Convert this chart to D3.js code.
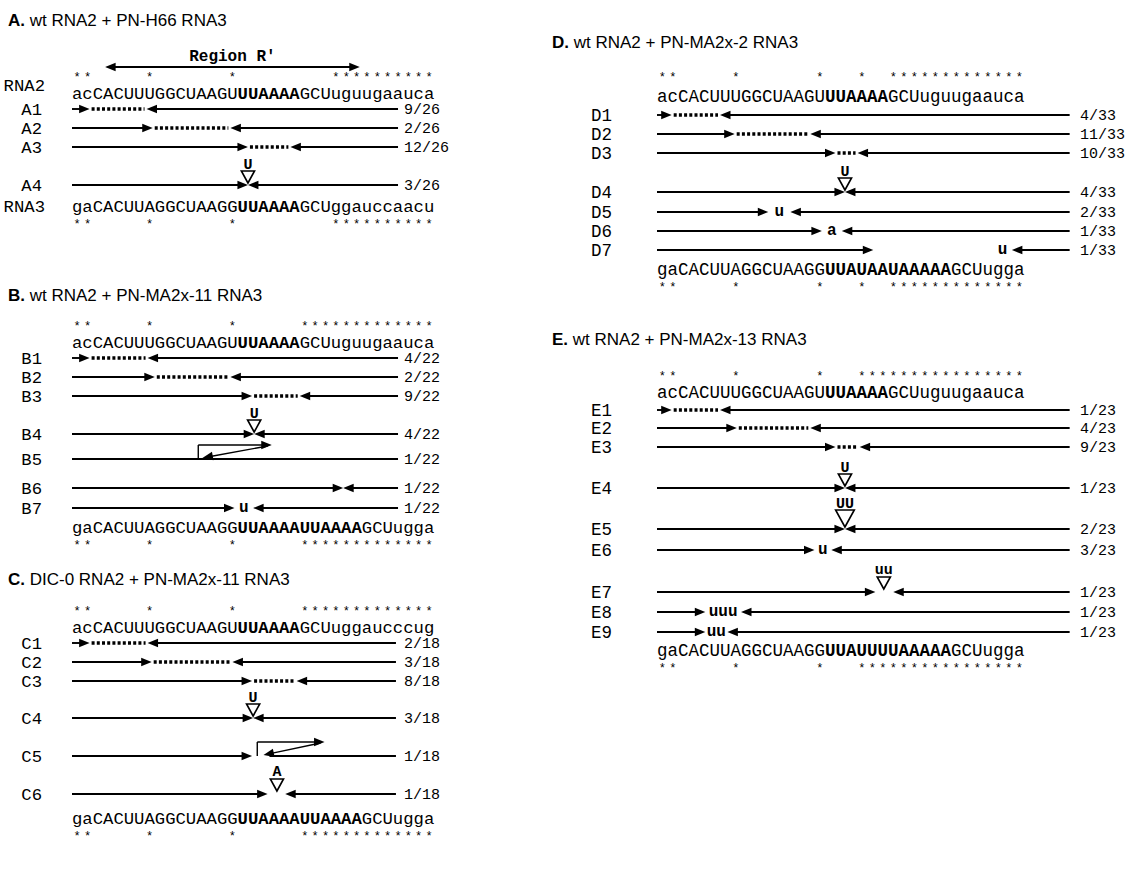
<!DOCTYPE html>
<html>
<head>
<meta charset="utf-8">
<script src="https://cdn.jsdelivr.net/npm/d3@7"></script>
<style>
  body { margin: 0; background: #fff; }
  svg { display: block; }
</style>
</head>
<body>
<div id="chart"></div>
<script>
// ---- sequences: [plain 5' part, bold part, plain 3' part]
var rna2Wt   = ["acCACUUUGGCUAAGU", "UUAAAA", "GCUuguugaauca"];
var rna2Dic0 = ["acCACUUUGGCUAAGU", "UUAAAA", "GCUuggaucccug"];
var rna3H66  = ["gaCACUUAGGCUAAGG", "UUAAAA", "GCUggauccaacu"];
var rna3x11  = ["gaCACUUAGGCUAAGG", "UUAAAAUUAAAA", "GCUugga"];
var rna3x2   = ["gaCACUUAGGCUAAGG", "UUAUAAUAAAAA", "GCUugga"];
var rna3x13  = ["gaCACUUAGGCUAAGG", "UUAUUUUAAAAA", "GCUugga"];

// ---- mismatch positions (nt index) marked with *
var starsA  = [0, 1, 7, 15, 25, 26, 27, 28, 29, 30, 31, 32, 33, 34];
var starsBC = [0, 1, 7, 15, 22, 23, 24, 25, 26, 27, 28, 29, 30, 31, 32, 33, 34];
var starsD  = [0, 1, 7, 15, 19, 22, 23, 24, 25, 26, 27, 28, 29, 30, 31, 32, 33, 34];
var starsE  = [0, 1, 7, 15, 19, 20, 21, 22, 23, 24, 25, 26, 27, 28, 29, 30, 31, 32, 33, 34];

// ---- panels
var panelIds    = ["A", "B", "C", "D", "E"];
var panelTitles = ["wt RNA2 + PN-H66 RNA3", "wt RNA2 + PN-MA2x-11 RNA3",
                   "DIC-0 RNA2 + PN-MA2x-11 RNA3", "wt RNA2 + PN-MA2x-2 RNA3",
                   "wt RNA2 + PN-MA2x-13 RNA3"];
var topSeqs    = [rna2Wt, rna2Wt, rna2Dic0, rna2Wt, rna2Wt];
var bottomSeqs = [rna3H66, rna3x11, rna3x11, rna3x2, rna3x13];
var starSets   = [starsA, starsBC, starsBC, starsD, starsE];
var totals     = [26, 22, 18, 33, 23];

// ---- recombinant junctions (positions in nt units along the alignment)
var rowsA = [
  {label: "A1", kind: "gap", from: 1.7, to: 7.2, n: 9},
  {label: "A2", kind: "gap", from: 7.8, to: 15.3, n: 2},
  {label: "A3", kind: "gap", from: 17.0, to: 21.1, n: 12},
  {label: "A4", kind: "ins", at: 17.0, nt: "U", n: 3}
];
var rowsB = [
  {label: "B1", kind: "gap", from: 1.7, to: 7.3, n: 4},
  {label: "B2", kind: "gap", from: 8.0, to: 15.3, n: 2},
  {label: "B3", kind: "gap", from: 17.4, to: 22.0, n: 9},
  {label: "B4", kind: "ins", at: 17.6, nt: "U", n: 4},
  {label: "B5", kind: "loop", from: null, up: 12.2, top: 19.3, back: 12.6, n: 1},
  {label: "B6", kind: "join", at: 26.2, n: 1},
  {label: "B7", kind: "nt", from: 15.7, to: 17.5, nt: "u", n: 1}
];
var rowsC = [
  {label: "C1", kind: "gap", from: 1.7, to: 7.3, n: 2},
  {label: "C2", kind: "gap", from: 7.7, to: 15.5, n: 3},
  {label: "C3", kind: "gap", from: 17.4, to: 21.7, n: 8},
  {label: "C4", kind: "ins", at: 17.5, nt: "U", n: 3},
  {label: "C5", kind: "loop", from: 17.4, up: 17.9, top: 24.4, back: 18.5, n: 1},
  {label: "C6", kind: "ins2", from: 18.9, to: 20.6, at: 19.8, nt: "A", n: 1}
];
var rowsD = [
  {label: "D1", kind: "gap", from: 1.4, to: 6.0, n: 4},
  {label: "D2", kind: "gap", from: 7.4, to: 14.6, n: 11},
  {label: "D3", kind: "gap", from: 17.0, to: 19.1, n: 10},
  {label: "D4", kind: "ins", at: 17.9, nt: "U", n: 4},
  {label: "D5", kind: "nt", from: 10.6, to: 12.7, nt: "u", n: 2},
  {label: "D6", kind: "nt", from: 15.7, to: 17.6, nt: "a", n: 1},
  {label: "D7", kind: "nt", from: 20.6, to: 33.8, ntAt: 32.9, nt: "u", n: 1}
];
var rowsE = [
  {label: "E1", kind: "gap", from: 1.4, to: 6.0, n: 1},
  {label: "E2", kind: "gap", from: 7.6, to: 14.6, n: 4},
  {label: "E3", kind: "gap", from: 17.0, to: 19.3, n: 9},
  {label: "E4", kind: "ins", at: 17.9, nt: "U", n: 1},
  {label: "E5", kind: "ins", at: 17.9, nt: "UU", n: 2},
  {label: "E6", kind: "nt", from: 15.0, to: 16.6, nt: "u", n: 3},
  {label: "E7", kind: "ins2", from: 20.8, to: 22.5, at: 21.6, nt: "uu", n: 1},
  {label: "E8", kind: "nt", from: 4.6, to: 8.0, nt: "uuu", n: 1},
  {label: "E9", kind: "nt", from: 4.6, to: 6.7, nt: "uu", n: 1}
];
var panelRows = [rowsA, rowsB, rowsC, rowsD, rowsE];

// region R' (panel A only)
var regionLabel = "Region R'";
var regionSpan = [3.2, 27.8];

// ---- layout (pixels, or nt units where noted)
var layout = {
  A: {x0: 72,  cw: 10.35, lineEnd: 31.5, fracX: 404,  titleX: 8,   labelX: 42,  titleY: 20,  starsY: 77,  seqY: 93,  rowY: [109, 128, 147, 185], seq3Y: 206, stars3Y: 221},
  B: {x0: 72,  cw: 10.35, lineEnd: 31.5, fracX: 404,  titleX: 8,   labelX: 42,  titleY: 295, starsY: 327, seqY: 342, rowY: [358, 377, 396, 434, 459, 488, 508], seq3Y: 527, stars3Y: 542},
  C: {x0: 72,  cw: 10.35, lineEnd: 31.3, fracX: 404,  titleX: 8,   labelX: 42,  titleY: 579, starsY: 611, seqY: 627, rowY: [643, 662, 681, 718, 756, 794], seq3Y: 818, stars3Y: 834},
  D: {x0: 657, cw: 10.5,  lineEnd: 39.3, fracX: 1080, titleX: 552, labelX: 612, titleY: 42,  starsY: 74,  seqY: 96,  rowY: [115, 134, 153, 192, 212, 231, 250], seq3Y: 269, stars3Y: 285},
  E: {x0: 657, cw: 10.5,  lineEnd: 39.3, fracX: 1080, titleX: 552, labelX: 612, titleY: 339, starsY: 374, seqY: 392, rowY: [410, 428, 447, 488, 529, 550, 592, 612, 632], seq3Y: 650, stars3Y: 666}
};

var W = 1141, H = 873;
var SEQ_LEN = 35;
var MONO = "'Courier New', 'Liberation Mono', monospace";
var SANS = "Arial, 'Liberation Sans', Helvetica, sans-serif";
var LW = 1.9;

var svg = d3.select("#chart").append("svg")
  .attr("width", W)
  .attr("height", H)
  .style("background", "#fff");

function arrowHead(g, x, y, ang) {
  var L = 10.5, w = 4.3;
  var ca = Math.cos(ang), sa = Math.sin(ang);
  var bx = x - L * ca, by = y - L * sa;
  g.append("path")
    .attr("d", "M" + x + "," + y +
      "L" + (bx - w * sa) + "," + (by + w * ca) +
      "L" + (bx + w * sa) + "," + (by - w * ca) + "Z")
    .attr("fill", "#000");
}

function hline(g, xa, xb, y, dotted) {
  var l = g.append("line")
    .attr("x1", xa).attr("x2", xb)
    .attr("y1", y).attr("y2", y)
    .attr("stroke", "#000");
  if (dotted) {
    l.attr("stroke-width", 3.6).attr("stroke-dasharray", "3 2.2");
  } else {
    l.attr("stroke-width", LW);
  }
  return l;
}

function triangle(g, cx, yTip, size) {
  var h = size, w = size * 0.55;
  g.append("path")
    .attr("d", "M" + cx + "," + yTip + "L" + (cx - w) + "," + (yTip - h) +
      "L" + (cx + w) + "," + (yTip - h) + "Z")
    .attr("fill", "#fff")
    .attr("stroke", "#000")
    .attr("stroke-width", 1.6);
}

function seqText(g, parts, x, y, fs) {
  var t = g.append("text")
    .attr("x", x(0))
    .attr("y", y + 6)
    .attr("font-family", MONO)
    .attr("font-size", fs)
    .attr("textLength", x(SEQ_LEN) - x(0))
    .attr("lengthAdjust", "spacing")
    .attr("fill", "#000");
  t.append("tspan").text(parts[0]);
  t.append("tspan").attr("font-weight", "bold").text(parts[1]);
  t.append("tspan").text(parts[2]);
}

// stars sit above (top row) or below (bottom row) the sequence, clear of its glyph box
function starRow(g, stars, x, baseline) {
  g.append("g").attr("class", "stars")
    .selectAll("text")
    .data(stars)
    .enter().append("text")
    .attr("x", function (d) { return x(d + 0.5); })
    .attr("y", baseline)
    .attr("text-anchor", "middle")
    .attr("font-family", MONO)
    .attr("font-size", 12)
    .text("*");
}

function drawRow(g, r, x, yy, lay, total) {
  var xs = x(0), xe = x(lay.lineEnd);

  if (r.kind === "gap") {
    hline(g, xs, x(r.from) - 6, yy);
    arrowHead(g, x(r.from), yy, 0);
    hline(g, x(r.from) + 2, x(r.to) - 2, yy, true);
    arrowHead(g, x(r.to), yy, Math.PI);
    hline(g, x(r.to) + 6, xe, yy);
  } else if (r.kind === "ins" || r.kind === "join") {
    hline(g, xs, x(r.at) - 6, yy);
    arrowHead(g, x(r.at), yy, 0);
    arrowHead(g, x(r.at), yy, Math.PI);
    hline(g, x(r.at) + 6, xe, yy);
    if (r.kind === "ins") {
      var big = r.nt.length > 1 ? 17 : 12;
      triangle(g, x(r.at), yy - 2, big);
      g.append("text")
        .attr("x", x(r.at)).attr("y", yy - big - 4)
        .attr("text-anchor", "middle")
        .attr("font-family", MONO).attr("font-weight", "bold")
        .attr("font-size", 15)
        .text(r.nt);
    }
  } else if (r.kind === "ins2") {
    hline(g, xs, x(r.from) - 6, yy);
    arrowHead(g, x(r.from), yy, 0);
    arrowHead(g, x(r.to), yy, Math.PI);
    hline(g, x(r.to) + 6, xe, yy);
    triangle(g, x(r.at), yy - 3, 12);
    g.append("text")
      .attr("x", x(r.at)).attr("y", yy - 18)
      .attr("text-anchor", "middle")
      .attr("font-family", MONO).attr("font-weight", "bold")
      .attr("font-size", 15)
      .text(r.nt);
  } else if (r.kind === "nt") {
    hline(g, xs, x(r.from) - 6, yy);
    arrowHead(g, x(r.from), yy, 0);
    arrowHead(g, x(r.to), yy, Math.PI);
    hline(g, x(r.to) + 6, xe, yy);
    var at = r.ntAt != null ? r.ntAt : (r.from + r.to) / 2;
    g.append("text")
      .attr("x", x(at)).attr("y", yy + 4)
      .attr("text-anchor", "middle")
      .attr("font-family", MONO).attr("font-weight", "bold")
      .attr("font-size", 16)
      .text(r.nt);
  } else if (r.kind === "loop") {
    var yt = yy - 14;
    if (r.from != null) {
      hline(g, xs, x(r.from) - 6, yy);
      arrowHead(g, x(r.from), yy, 0);
      hline(g, x(r.back) + 6, xe, yy);
    } else {
      hline(g, xs, xe, yy);
    }
    g.append("line")
      .attr("x1", x(r.up)).attr("x2", x(r.up))
      .attr("y1", yy).attr("y2", yt)
      .attr("stroke", "#000").attr("stroke-width", 1.4);
    hline(g, x(r.up), x(r.top) - 6, yt).attr("stroke-width", 1.4);
    arrowHead(g, x(r.top), yt, 0);
    var x1 = x(r.top) - 4, y1 = yt + 1, x2 = x(r.back), y2 = yy - 1;
    var ang = Math.atan2(y2 - y1, x2 - x1);
    g.append("line")
      .attr("x1", x1).attr("y1", y1)
      .attr("x2", x2 - 8 * Math.cos(ang)).attr("y2", y2 - 8 * Math.sin(ang))
      .attr("stroke", "#000").attr("stroke-width", 1.4);
    arrowHead(g, x2, y2, ang);
  }

  // fraction of clones
  g.append("text")
    .attr("x", lay.fracX)
    .attr("y", yy + 5)
    .attr("font-family", MONO)
    .attr("font-size", 15)
    .text(r.n + "/" + total);
}

panelIds.forEach(function (id, i) {
  var lay = layout[id];
  var rows = panelRows[i];
  var fs = lay.cw / 0.6;
  var g = svg.append("g").attr("class", "panel panel-" + id);

  var x = d3.scaleLinear()
    .domain([0, SEQ_LEN])
    .range([lay.x0, lay.x0 + SEQ_LEN * lay.cw]);
  var y = d3.scaleOrdinal()
    .domain(rows.map(function (r) { return r.label; }))
    .range(lay.rowY);

  // title
  var t = g.append("text")
    .attr("x", lay.titleX)
    .attr("y", lay.titleY + 6)
    .attr("font-family", SANS)
    .attr("font-size", 17)
    .attr("fill", "#000");
  t.append("tspan").attr("font-weight", "bold").text(id + ".");
  t.append("tspan").text(" " + panelTitles[i]);

  // region R'
  if (id === "A") {
    var ry = 67;
    g.append("line")
      .attr("x1", x(regionSpan[0]) + 8).attr("x2", x(regionSpan[1]) - 8)
      .attr("y1", ry).attr("y2", ry)
      .attr("stroke", "#000").attr("stroke-width", 2);
    arrowHead(g, x(regionSpan[0]), ry, Math.PI);
    arrowHead(g, x(regionSpan[1]), ry, 0);
    g.append("text")
      .attr("x", x((regionSpan[0] + regionSpan[1]) / 2))
      .attr("y", 61)
      .attr("text-anchor", "middle")
      .attr("font-family", MONO).attr("font-weight", "bold")
      .attr("font-size", 16)
      .text(regionLabel);
    g.append("text")
      .attr("x", lay.labelX + 3).attr("y", lay.seqY - 2)
      .attr("text-anchor", "end")
      .attr("font-family", MONO).attr("font-size", fs)
      .text("RNA2");
    g.append("text")
      .attr("x", lay.labelX + 3).attr("y", lay.seq3Y + 6)
      .attr("text-anchor", "end")
      .attr("font-family", MONO).attr("font-size", fs)
      .text("RNA3");
  }

  starRow(g, starSets[i], x, Math.min(lay.starsY + 7, lay.seqY - 12));
  seqText(g, topSeqs[i], x, lay.seqY, fs);

  rows.forEach(function (r) {
    var yy = y(r.label);
    g.append("text")
      .attr("x", lay.labelX).attr("y", yy + 6)
      .attr("text-anchor", "end")
      .attr("font-family", MONO).attr("font-size", fs)
      .text(r.label);
    drawRow(g, r, x, yy, lay, totals[i]);
  });

  seqText(g, bottomSeqs[i], x, lay.seq3Y, fs);
  starRow(g, starSets[i], x, Math.max(lay.stars3Y + 6, lay.seq3Y + 22));
});
</script>
</body>
</html>
